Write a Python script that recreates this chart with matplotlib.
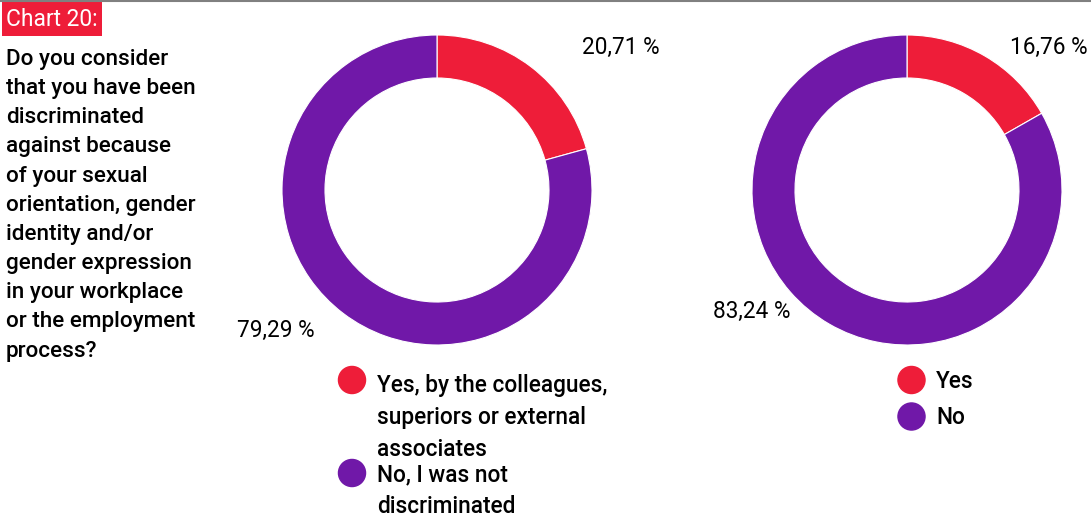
import matplotlib.pyplot as plt
from matplotlib.patches import Rectangle

plt.rcParams['font.family'] = ['Roboto', 'DejaVu Sans']

# survey answers, percent
labels_1 = ['Yes, by the colleagues,\nsuperiors or external\nassociates', 'No, I was not\ndiscriminated']
values_1 = [20.71, 79.29]
labels_2 = ['Yes', 'No']
values_2 = [16.76, 83.24]
colors = ['#ee1d39', '#7018a8']

title = 'Chart 20:'
question = ('Do you consider\nthat you have been\ndiscriminated\nagainst because\nof your sexual\n'
            'orientation, gender\nidentity and/or\ngender expression\nin your workplace\n'
            'or the employment\nprocess?')

W, H = 1091, 516
fig = plt.figure(figsize=(W / 100, H / 100), dpi=100)
ax = fig.add_axes([0, 0, 1, 1])


def fmt(v):
    return f'{v:.2f}'.replace('.', ',') + ' %'


def donut(cx, cy, vals):
    # y axis runs downward, so -90 is the top and counterclock reads clockwise
    ax.pie(vals, colors=colors, startangle=-90, counterclock=True,
           center=(cx, cy), radius=155,
           wedgeprops=dict(width=43, edgecolor='white', linewidth=0.8))


donut(437, 190, values_1)
donut(907, 190, values_2)

# value labels
lab = dict(fontsize=16.3, va='center', ha='left')
ax.text(582, 47, fmt(values_1[0]), **lab)
ax.text(237, 330, fmt(values_1[1]), **lab)
ax.text(1010, 47, fmt(values_2[0]), **lab)
ax.text(713, 311, fmt(values_2[1]), **lab)

# legends
leg = dict(fontsize=16.3, fontweight='medium', linespacing=1.5)
ax.scatter([352, 352], [380, 473], s=380, c=colors, zorder=3)
ax.text(377, 374, labels_1[0], va='top', **leg)
ax.text(377, 463, labels_1[1], va='top', **leg)
ax.scatter([911.5, 911.5], [380, 416.5], s=380, c=colors, zorder=3)
ax.text(936, 381, labels_2[0], va='center', **leg)
ax.text(936, 417, labels_2[1], va='center', **leg)

# header
ax.plot([0, W], [0.5, 0.5], color='#808080', lw=1.5)
ax.add_patch(Rectangle((2, 1.5), 100, 34.5, color='#ee1d39', lw=0))
ax.text(6, 19, title, fontsize=16.4, color='white', va='center')
ax.text(6, 49, question, fontsize=16.2, fontweight='medium', va='top',
        linespacing=1.51)

ax.set_xlim(0, W)
ax.set_ylim(H, 0)
ax.set_aspect('auto')
ax.axis('off')

fig.savefig('out.png', dpi=100)
